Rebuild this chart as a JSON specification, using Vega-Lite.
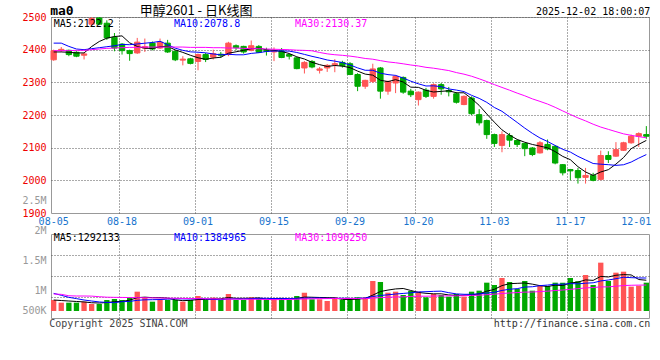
{
"$schema": "https://vega.github.io/schema/vega-lite/v6.json",
"background": "white",
"padding": {"left": 21, "top": 4, "right": 5, "bottom": 3},
"config": {"view": {"stroke": "#999", "strokeWidth": 1}, "font": "DejaVu Sans Mono",
  "axis": {"domain": false, "ticks": false, "labelFont": "DejaVu Sans Mono", "labelFontSize": 10, "labelOverlap": false, "gridColor": "#555555", "gridDash": [1, 2], "gridWidth": 1}},
"datasets": {"k": [
{"d":"08-05","o":2369,"h":2400,"l":2366,"c":2397,"v":462000,"m5":2393,"m10":2420,"m30":2397,"vm5":462000,"vm10":742000,"vm30":714000},
{"d":"08-06","o":2398,"h":2408,"l":2393,"c":2401,"v":350000,"m5":2393,"m10":2420,"m30":2397,"vm5":440000,"vm10":660000,"vm30":700000},
{"d":"08-07","o":2398,"h":2400,"l":2380,"c":2385,"v":350000,"m5":2392,"m10":2410,"m30":2397,"vm5":420000,"vm10":574000,"vm30":640000},
{"d":"08-08","o":2392,"h":2395,"l":2377,"c":2380,"v":350000,"m5":2390,"m10":2402,"m30":2398,"vm5":400000,"vm10":520000,"vm30":630000},
{"d":"08-11","o":2383,"h":2390,"l":2370,"c":2387,"v":392000,"m5":2390,"m10":2400,"m30":2398,"vm5":381000,"vm10":462000,"vm30":630000},
{"d":"08-12","o":2478,"h":2500,"l":2470,"c":2495,"v":294000,"m5":2409.6,"m10":2403,"m30":2400,"vm5":347000,"vm10":420000,"vm30":625000},
{"d":"08-13","o":2497,"h":2500,"l":2475,"c":2478,"v":294000,"m5":2425,"m10":2406,"m30":2402,"vm5":336000,"vm10":380000,"vm30":600000},
{"d":"08-14","o":2481,"h":2490,"l":2430,"c":2436,"v":462000,"m5":2435.2,"m10":2409,"m30":2404,"vm5":358000,"vm10":360000,"vm30":580000},
{"d":"08-15","o":2438,"h":2451,"l":2395,"c":2405,"v":504000,"m5":2440.2,"m10":2412,"m30":2405,"vm5":389000,"vm10":350000,"vm30":574000},
{"d":"08-18","o":2417,"h":2420,"l":2385,"c":2397,"v":462000,"m5":2442.2,"m10":2416.1,"m30":2406,"vm5":403000,"vm10":392000,"vm30":570000},
{"d":"08-19","o":2397,"h":2400,"l":2366,"c":2388,"v":560000,"m5":2420.8,"m10":2415.2,"m30":2407,"vm5":456000,"vm10":402000,"vm30":565000},
{"d":"08-20","o":2390,"h":2436,"l":2387,"c":2423,"v":812000,"m5":2409.8,"m10":2417.4,"m30":2407,"vm5":560000,"vm10":448000,"vm30":560000},
{"d":"08-21","o":2405,"h":2434,"l":2393,"c":2409,"v":574000,"m5":2404.4,"m10":2419.8,"m30":2408,"vm5":582000,"vm10":470000,"vm30":555000},
{"d":"08-22","o":2420,"h":2425,"l":2398,"c":2402,"v":392000,"m5":2403.8,"m10":2422,"m30":2408,"vm5":560000,"vm10":475000,"vm30":550000},
{"d":"08-25","o":2405,"h":2434,"l":2402,"c":2423,"v":462000,"m5":2409,"m10":2425.6,"m30":2408,"vm5":560000,"vm10":482000,"vm30":545000},
{"d":"08-26","o":2420,"h":2430,"l":2390,"c":2393,"v":462000,"m5":2410,"m10":2415.4,"m30":2408,"vm5":540000,"vm10":498000,"vm30":540000},
{"d":"08-27","o":2395,"h":2398,"l":2365,"c":2369,"v":462000,"m5":2399.2,"m10":2404.5,"m30":2408,"vm5":470000,"vm10":515000,"vm30":535000},
{"d":"08-28","o":2368,"h":2380,"l":2352,"c":2371,"v":392000,"m5":2391.6,"m10":2398,"m30":2408,"vm5":434000,"vm10":508000,"vm30":530000},
{"d":"08-29","o":2372,"h":2375,"l":2355,"c":2358,"v":462000,"m5":2382.8,"m10":2393.3,"m30":2407,"vm5":448000,"vm10":504000,"vm30":525000},
{"d":"09-01","o":2364,"h":2388,"l":2337,"c":2385,"v":630000,"m5":2375.2,"m10":2392.1,"m30":2407,"vm5":482000,"vm10":521000,"vm30":520000},
{"d":"09-02","o":2385,"h":2390,"l":2362,"c":2370,"v":462000,"m5":2370.6,"m10":2390.3,"m30":2407,"vm5":482000,"vm10":511000,"vm30":515000},
{"d":"09-03","o":2377,"h":2400,"l":2370,"c":2388,"v":560000,"m5":2374.4,"m10":2386.8,"m30":2406,"vm5":501000,"vm10":486000,"vm30":510000},
{"d":"09-04","o":2386,"h":2393,"l":2375,"c":2383,"v":462000,"m5":2376.8,"m10":2384.2,"m30":2406,"vm5":515000,"vm10":475000,"vm30":505000},
{"d":"09-05","o":2385,"h":2424,"l":2380,"c":2420,"v":714000,"m5":2389.2,"m10":2386,"m30":2405,"vm5":566000,"vm10":507000,"vm30":500000},
{"d":"09-08","o":2412,"h":2416,"l":2398,"c":2406,"v":462000,"m5":2393.4,"m10":2384.3,"m30":2405,"vm5":532000,"vm10":507000,"vm30":498000},
{"d":"09-09","o":2410,"h":2412,"l":2388,"c":2393,"v":462000,"m5":2398,"m10":2384.3,"m30":2404,"vm5":532000,"vm10":507000,"vm30":496000},
{"d":"09-10","o":2398,"h":2428,"l":2395,"c":2412,"v":574000,"m5":2402.8,"m10":2388.6,"m30":2403,"vm5":535000,"vm10":518000,"vm30":494000},
{"d":"09-11","o":2410,"h":2414,"l":2390,"c":2392,"v":532000,"m5":2404.6,"m10":2390.7,"m30":2403,"vm5":549000,"vm10":532000,"vm30":490000},
{"d":"09-12","o":2398,"h":2406,"l":2382,"c":2395,"v":462000,"m5":2399.6,"m10":2394.4,"m30":2402,"vm5":498000,"vm10":532000,"vm30":485000},
{"d":"09-15","o":2393,"h":2407,"l":2365,"c":2398,"v":532000,"m5":2398,"m10":2395.7,"m30":2401.3,"vm5":512000,"vm10":522000,"vm30":478000},
{"d":"09-16","o":2396,"h":2405,"l":2374,"c":2376,"v":532000,"m5":2394.6,"m10":2396.3,"m30":2400.6,"vm5":526000,"vm10":529000,"vm30":481000},
{"d":"09-17","o":2385,"h":2388,"l":2370,"c":2380,"v":462000,"m5":2388.2,"m10":2395.5,"m30":2399.9,"vm5":504000,"vm10":519000,"vm30":484000},
{"d":"09-18","o":2375,"h":2378,"l":2340,"c":2342,"v":630000,"m5":2378.2,"m10":2391.4,"m30":2398.5,"vm5":524000,"vm10":536000,"vm30":494000},
{"d":"09-19","o":2344,"h":2365,"l":2327,"c":2361,"v":770000,"m5":2371.4,"m10":2385.5,"m30":2397.8,"vm5":585000,"vm10":542000,"vm30":508000},
{"d":"09-22","o":2364,"h":2368,"l":2343,"c":2347,"v":490000,"m5":2361.2,"m10":2379.6,"m30":2396.5,"vm5":577000,"vm10":545000,"vm30":511000},
{"d":"09-23","o":2337,"h":2347,"l":2327,"c":2341,"v":490000,"m5":2354.2,"m10":2374.4,"m30":2391.4,"vm5":568000,"vm10":547000,"vm30":518000},
{"d":"09-24","o":2344,"h":2356,"l":2332,"c":2352,"v":420000,"m5":2348.6,"m10":2368.4,"m30":2387.2,"vm5":560000,"vm10":532000,"vm30":522000},
{"d":"09-25","o":2354,"h":2371,"l":2331,"c":2357,"v":574000,"m5":2351.6,"m10":2364.9,"m30":2384.5,"vm5":549000,"vm10":536000,"vm30":525000},
{"d":"09-26","o":2361,"h":2366,"l":2345,"c":2351,"v":462000,"m5":2349.6,"m10":2360.5,"m30":2382.7,"vm5":487000,"vm10":536000,"vm30":524000},
{"d":"09-29","o":2357,"h":2362,"l":2322,"c":2324,"v":462000,"m5":2345,"m10":2353.1,"m30":2380.3,"vm5":482000,"vm10":529000,"vm30":524000},
{"d":"09-30","o":2324,"h":2328,"l":2273,"c":2288,"v":574000,"m5":2334.4,"m10":2344.3,"m30":2377,"vm5":498000,"vm10":533000,"vm30":525000},
{"d":"10-09","o":2288,"h":2308,"l":2280,"c":2306,"v":574000,"m5":2325.2,"m10":2336.9,"m30":2373.1,"vm5":529000,"vm10":545000,"vm30":517000},
{"d":"10-10","o":2303,"h":2357,"l":2298,"c":2341,"v":1260000,"m5":2322,"m10":2336.8,"m30":2370.8,"vm5":666000,"vm10":608000,"vm30":539000},
{"d":"10-13","o":2344,"h":2347,"l":2250,"c":2273,"v":1218000,"m5":2306.4,"m10":2328,"m30":2366.5,"vm5":818000,"vm10":652000,"vm30":567000},
{"d":"10-14","o":2273,"h":2305,"l":2262,"c":2303,"v":770000,"m5":2302.2,"m10":2323.6,"m30":2362.5,"vm5":879000,"vm10":680000,"vm30":577000},
{"d":"10-15","o":2298,"h":2322,"l":2267,"c":2318,"v":812000,"m5":2308.2,"m10":2321.3,"m30":2360,"vm5":927000,"vm10":713000,"vm30":589000},
{"d":"10-16","o":2315,"h":2318,"l":2265,"c":2270,"v":672000,"m5":2301,"m10":2313.1,"m30":2356.7,"vm5":946000,"vm10":738000,"vm30":596000},
{"d":"10-17","o":2273,"h":2280,"l":2255,"c":2262,"v":840000,"m5":2285.2,"m10":2303.6,"m30":2353.1,"vm5":862000,"vm10":764000,"vm30":611000},
{"d":"10-20","o":2247,"h":2272,"l":2229,"c":2270,"v":812000,"m5":2284.6,"m10":2295.5,"m30":2350.1,"vm5":781000,"vm10":799000,"vm30":623000},
{"d":"10-21","o":2276,"h":2283,"l":2252,"c":2257,"v":574000,"m5":2275.4,"m10":2288.8,"m30":2345.9,"vm5":742000,"vm10":811000,"vm30":621000},
{"d":"10-22","o":2257,"h":2297,"l":2250,"c":2293,"v":714000,"m5":2270.4,"m10":2289.3,"m30":2343.3,"vm5":722000,"vm10":825000,"vm30":629000},
{"d":"10-23","o":2293,"h":2298,"l":2262,"c":2280,"v":672000,"m5":2272.4,"m10":2286.7,"m30":2339.7,"vm5":722000,"vm10":834000,"vm30":633000},
{"d":"10-24","o":2275,"h":2286,"l":2257,"c":2271,"v":602000,"m5":2274.2,"m10":2279.7,"m30":2336,"vm5":675000,"vm10":769000,"vm30":637000},
{"d":"10-27","o":2265,"h":2270,"l":2235,"c":2239,"v":714000,"m5":2268,"m10":2276.3,"m30":2329.9,"vm5":655000,"vm10":718000,"vm30":637000},
{"d":"10-28","o":2232,"h":2260,"l":2230,"c":2257,"v":602000,"m5":2268,"m10":2271.7,"m30":2325,"vm5":661000,"vm10":701000,"vm30":642000},
{"d":"10-29","o":2252,"h":2257,"l":2200,"c":2204,"v":812000,"m5":2250.2,"m10":2260.3,"m30":2318.7,"vm5":680000,"vm10":701000,"vm30":654000},
{"d":"10-30","o":2201,"h":2218,"l":2168,"c":2176,"v":854000,"m5":2229.4,"m10":2250.9,"m30":2310.8,"vm5":717000,"vm10":720000,"vm30":663000},
{"d":"10-31","o":2183,"h":2186,"l":2127,"c":2140,"v":1190000,"m5":2203.2,"m10":2238.7,"m30":2302.4,"vm5":834000,"vm10":755000,"vm30":685000},
{"d":"11-03","o":2140,"h":2143,"l":2102,"c":2113,"v":1092000,"m5":2178,"m10":2223,"m30":2293,"vm5":910000,"vm10":783000,"vm30":706000},
{"d":"11-04","o":2107,"h":2150,"l":2086,"c":2140,"v":1386000,"m5":2154.6,"m10":2211.3,"m30":2284.4,"vm5":1067000,"vm10":864000,"vm30":735000},
{"d":"11-05","o":2137,"h":2145,"l":2102,"c":2123,"v":1218000,"m5":2138.4,"m10":2194.3,"m30":2276,"vm5":1148000,"vm10":914000,"vm30":757000},
{"d":"11-06","o":2122,"h":2125,"l":2102,"c":2110,"v":924000,"m5":2125.2,"m10":2177.3,"m30":2267,"vm5":1162000,"vm10":939000,"vm30":773000},
{"d":"11-07","o":2113,"h":2115,"l":2074,"c":2097,"v":1260000,"m5":2116.6,"m10":2159.9,"m30":2258.8,"vm5":1176000,"vm10":1005000,"vm30":794000},
{"d":"11-10","o":2099,"h":2102,"l":2074,"c":2079,"v":854000,"m5":2109.8,"m10":2143.9,"m30":2249.4,"vm5":1128000,"vm10":1019000,"vm30":797000},
{"d":"11-11","o":2084,"h":2120,"l":2082,"c":2115,"v":1064000,"m5":2104.8,"m10":2129.7,"m30":2241.7,"vm5":1064000,"vm10":1065000,"vm30":816000},
{"d":"11-12","o":2110,"h":2125,"l":2092,"c":2096,"v":1050000,"m5":2099.4,"m10":2118.9,"m30":2233.5,"vm5":1030000,"vm10":1089000,"vm30":834000},
{"d":"11-13","o":2104,"h":2108,"l":2049,"c":2053,"v":1190000,"m5":2088,"m10":2106.6,"m30":2223.5,"vm5":1084000,"vm10":1123000,"vm30":860000},
{"d":"11-14","o":2048,"h":2050,"l":2015,"c":2023,"v":1190000,"m5":2073.2,"m10":2094.9,"m30":2212.4,"vm5":1070000,"vm10":1123000,"vm30":881000},
{"d":"11-17","o":2033,"h":2035,"l":2000,"c":2029,"v":1386000,"m5":2063.2,"m10":2086.5,"m30":2201.7,"vm5":1176000,"vm10":1152000,"vm30":911000},
{"d":"11-18","o":2030,"h":2038,"l":1990,"c":2008,"v":1250000,"m5":2041.8,"m10":2073.3,"m30":2191.1,"vm5":1213000,"vm10":1139000,"vm30":938000},
{"d":"11-19","o":2009,"h":2038,"l":1990,"c":2015,"v":1512000,"m5":2025.6,"m10":2062.5,"m30":2182,"vm5":1306000,"vm10":1168000,"vm30":969000},
{"d":"11-20","o":2015,"h":2023,"l":1997,"c":2000,"v":1092000,"m5":2015,"m10":2051.5,"m30":2171.8,"vm5":1286000,"vm10":1185000,"vm30":986000},
{"d":"11-21","o":2003,"h":2091,"l":2000,"c":2076,"v":2030000,"m5":2025.6,"m10":2049.4,"m30":2163,"vm5":1454000,"vm10":1262000,"vm30":1012000},
{"d":"11-24","o":2076,"h":2089,"l":2053,"c":2064,"v":1260000,"m5":2032.6,"m10":2047.9,"m30":2156,"vm5":1429000,"vm10":1302000,"vm30":1013000},
{"d":"11-25","o":2074,"h":2117,"l":2072,"c":2094,"v":1610000,"m5":2049.8,"m10":2045.8,"m30":2149.1,"vm5":1501000,"vm10":1357000,"vm30":1041000},
{"d":"11-26","o":2092,"h":2118,"l":2090,"c":2115,"v":1652000,"m5":2069.8,"m10":2047.7,"m30":2142.3,"vm5":1529000,"vm10":1417000,"vm30":1069000},
{"d":"11-27","o":2115,"h":2140,"l":2112,"c":2135,"v":1022000,"m5":2096.8,"m10":2055.9,"m30":2137.8,"vm5":1515000,"vm10":1400000,"vm30":1081000},
{"d":"11-28","o":2135,"h":2147,"l":2102,"c":2143,"v":1064000,"m5":2110.2,"m10":2067.9,"m30":2133.8,"vm5":1322000,"vm10":1388000,"vm30":1088000},
{"d":"12-01","o":2140,"h":2166,"l":2127,"c":2135,"v":1190000,"m5":2122.2,"m10":2078.8,"m30":2130.37,"vm5":1292133,"vm10":1384965,"vm30":1090250}
]},
"data": {"name": "k"},
"spacing": 21,
"bounds": "flush",
"vconcat": [
{
 "width": 598, "height": 196,
 "resolve": {"axis": {"x": "independent", "y": "independent"}},
 "layer": [
  {"mark": {"type": "rule", "strokeWidth": 1},
   "encoding": {
    "x": {"field": "d", "type": "ordinal", "sort": null, "scale": {"type": "band", "paddingInner": 0.3, "paddingOuter": 0},
      "axis": {"title": null, "orient": "bottom", "bandPosition": 0, "values": ["08-05","08-18","09-01","09-15","09-29","10-20","11-03","11-17","12-01"], "labelAngle": 0, "labelOverlap": false, "labelColor": "#1874cd", "labelPadding": 3, "grid": false,
        "labelAlign": {"condition": {"test": "datum.value === '12-01'", "value": "right"}, "value": "center"},
        "labelOffset": {"condition": {"test": "datum.value === '12-01'", "value": 5}, "value": 0}}},
    "y": {"field": "l", "type": "quantitative", "scale": {"domain": [1900, 2500], "nice": false, "zero": false},
      "axis": {"title": null, "orient": "left", "values": [1900, 2000, 2100, 2200, 2300, 2400, 2500], "format": "d", "labelOverlap": false, "labelColor": "#ee0000", "labelPadding": 5, "grid": false}},
    "y2": {"field": "h"},
    "color": {"condition": {"test": "datum.c >= datum.o", "value": "#ff5555"}, "value": "#00a800"}}},
  {"mark": {"type": "bar", "strokeWidth": 1},
   "encoding": {
    "x": {"field": "d", "type": "ordinal", "sort": null, "axis": null},
    "y": {"field": "o", "type": "quantitative", "axis": null},
    "y2": {"field": "c"},
    "color": {"condition": {"test": "datum.c >= datum.o", "value": "#ff5555"}, "value": "#00a800"},
    "stroke": {"condition": {"test": "datum.c >= datum.o", "value": "#ff5555"}, "value": "#00a800"}}},
  {"mark": {"type": "line", "strokeWidth": 1, "color": "#000000"},
   "encoding": {
     "x": {"field": "d", "type": "ordinal", "sort": null, "axis": {"title": null, "orient": "top", "bandPosition": 0, "labels": false, "grid": true, "values": ["08-18","09-01","09-15","09-29","10-20","11-03","11-17"]}},
     "y": {"field": "m5", "type": "quantitative", "axis": {"title": null, "orient": "right", "labels": false, "grid": true, "values": [2000, 2100, 2200, 2300, 2400, 2500]}}}},
  {"mark": {"type": "line", "strokeWidth": 1, "color": "#0000ff"},
   "encoding": {"x": {"field": "d", "type": "ordinal", "sort": null, "axis": null}, "y": {"field": "m10", "type": "quantitative", "axis": null}}},
  {"mark": {"type": "line", "strokeWidth": 1, "color": "#ff00ff"},
   "encoding": {"x": {"field": "d", "type": "ordinal", "sort": null, "axis": null}, "y": {"field": "m30", "type": "quantitative", "axis": null}}},
  {"data": {"values": [{}]}, "mark": {"type": "text", "align": "left", "baseline": "middle", "font": "DejaVu Sans Mono", "fontSize": 13, "fontWeight": "bold", "dx": -3.5, "color": "#000"},
   "encoding": {"x": {"datum": "08-05", "type": "ordinal", "axis": null}, "y": {"datum": 2517, "type": "quantitative", "axis": null}, "text": {"value": "ma0"}}},
  {"data": {"values": [{}]}, "mark": {"type": "text", "align": "left", "baseline": "middle", "font": "Noto Sans CJK SC", "fontSize": 13, "dx": -5, "color": "#000"},
   "encoding": {"x": {"datum": "08-21", "type": "ordinal", "axis": null}, "y": {"datum": 2518, "type": "quantitative", "axis": null}, "text": {"value": "甲醇2601 - 日K线图"}}},
  {"data": {"values": [{}]}, "mark": {"type": "text", "align": "right", "baseline": "middle", "font": "DejaVu Sans Mono", "fontSize": 10, "dx": 4, "color": "#000"},
   "encoding": {"x": {"datum": "12-01", "type": "ordinal", "axis": null}, "y": {"datum": 2516, "type": "quantitative", "axis": null}, "text": {"value": "2025-12-02 18:00:07"}}},
  {"data": {"values": [{}]}, "mark": {"type": "text", "align": "left", "baseline": "middle", "font": "DejaVu Sans Mono", "fontSize": 10, "dx": 0, "color": "#000"},
   "encoding": {"x": {"datum": "08-05", "type": "ordinal", "axis": null}, "y": {"datum": 2479.5, "type": "quantitative", "axis": null}, "text": {"value": "MA5:2122.2"}}},
  {"data": {"values": [{}]}, "mark": {"type": "text", "align": "left", "baseline": "middle", "font": "DejaVu Sans Mono", "fontSize": 10, "dx": -1.3, "color": "#0000ff"},
   "encoding": {"x": {"datum": "08-27", "type": "ordinal", "axis": null}, "y": {"datum": 2479.5, "type": "quantitative", "axis": null}, "text": {"value": "MA10:2078.8"}}},
  {"data": {"values": [{}]}, "mark": {"type": "text", "align": "left", "baseline": "middle", "font": "DejaVu Sans Mono", "fontSize": 10, "dx": -1.7, "color": "#ff00ff"},
   "encoding": {"x": {"datum": "09-18", "type": "ordinal", "axis": null}, "y": {"datum": 2479.5, "type": "quantitative", "axis": null}, "text": {"value": "MA30:2130.37"}}}
 ]
},
{
 "width": 598, "height": 84,
 "resolve": {"axis": {"x": "independent", "y": "independent"}},
 "layer": [
  {"mark": {"type": "bar"},
   "encoding": {
    "x": {"field": "d", "type": "ordinal", "sort": null, "scale": {"type": "band", "paddingInner": 0.3, "paddingOuter": 0}, "axis": null},
    "y": {"field": "v", "type": "quantitative", "scale": {"domain": [-294000, 3234000], "nice": false, "zero": false},
      "axis": {"title": null, "orient": "left", "grid": false, "values": [500000, 1000000, 1500000, 2000000, 2500000], "labelOverlap": false, "labelColor": "#999999", "labelPadding": 5,
        "labelExpr": "datum.value >= 1000000 ? (datum.value / 1000000) + 'M' : (datum.value / 1000) + 'K'",
        "labelOffset": {"condition": [{"test": "datum.value == 500000", "value": 11.6}, {"test": "datum.value == 1000000", "value": 3.5}, {"test": "datum.value == 1500000", "value": -14.6}, {"test": "datum.value == 2000000", "value": -32.7}], "value": -50.8}}},
    "y2": {"datum": 0},
    "color": {"condition": {"test": "datum.c >= datum.o", "value": "#ff5555"}, "value": "#00a800"}}},
  {"mark": {"type": "line", "strokeWidth": 1, "color": "#000000"},
   "encoding": {
     "x": {"field": "d", "type": "ordinal", "sort": null, "axis": {"title": null, "orient": "top", "bandPosition": 0, "labels": false, "grid": true, "values": ["08-18","09-01","09-15","09-29","10-20","11-03","11-17"]}},
     "y": {"field": "vm5", "type": "quantitative", "axis": {"title": null, "orient": "right", "labels": false, "grid": true, "values": [588000, 1470000, 2352000]}}}},
  {"mark": {"type": "line", "strokeWidth": 1, "color": "#0000ff"},
   "encoding": {"x": {"field": "d", "type": "ordinal", "sort": null, "axis": null}, "y": {"field": "vm10", "type": "quantitative", "axis": null}}},
  {"mark": {"type": "line", "strokeWidth": 1, "color": "#ff00ff"},
   "encoding": {"x": {"field": "d", "type": "ordinal", "sort": null, "axis": null}, "y": {"field": "vm30", "type": "quantitative", "axis": null}}},
  {"data": {"values": [{}]}, "mark": {"type": "text", "align": "left", "baseline": "middle", "font": "DejaVu Sans Mono", "fontSize": 10, "color": "#000"},
   "encoding": {"x": {"datum": "08-05", "type": "ordinal", "axis": null}, "y": {"datum": 3080000, "type": "quantitative", "axis": null}, "text": {"value": "MA5:1292133"}}},
  {"data": {"values": [{}]}, "mark": {"type": "text", "align": "left", "baseline": "middle", "font": "DejaVu Sans Mono", "fontSize": 10, "dx": -1.3, "color": "#0000ff"},
   "encoding": {"x": {"datum": "08-27", "type": "ordinal", "axis": null}, "y": {"datum": 3080000, "type": "quantitative", "axis": null}, "text": {"value": "MA10:1384965"}}},
  {"data": {"values": [{}]}, "mark": {"type": "text", "align": "left", "baseline": "middle", "font": "DejaVu Sans Mono", "fontSize": 10, "dx": -1.7, "color": "#ff00ff"},
   "encoding": {"x": {"datum": "09-18", "type": "ordinal", "axis": null}, "y": {"datum": 3080000, "type": "quantitative", "axis": null}, "text": {"value": "MA30:1090250"}}},
  {"data": {"values": [{}]}, "mark": {"type": "text", "align": "left", "baseline": "middle", "font": "DejaVu Sans Mono", "fontSize": 10, "dx": -4.5, "color": "#444"},
   "encoding": {"x": {"datum": "08-05", "type": "ordinal", "axis": null}, "y": {"datum": -546000, "type": "quantitative", "axis": null}, "text": {"value": "Copyright 2025 SINA.COM"}}},
  {"data": {"values": [{}]}, "mark": {"type": "text", "align": "right", "baseline": "middle", "font": "DejaVu Sans Mono", "fontSize": 10, "dx": 4, "color": "#333"},
   "encoding": {"x": {"datum": "12-01", "type": "ordinal", "axis": null}, "y": {"datum": -546000, "type": "quantitative", "axis": null}, "text": {"value": "http://finance.sina.com.cn"}}}
 ]
}
]
}
